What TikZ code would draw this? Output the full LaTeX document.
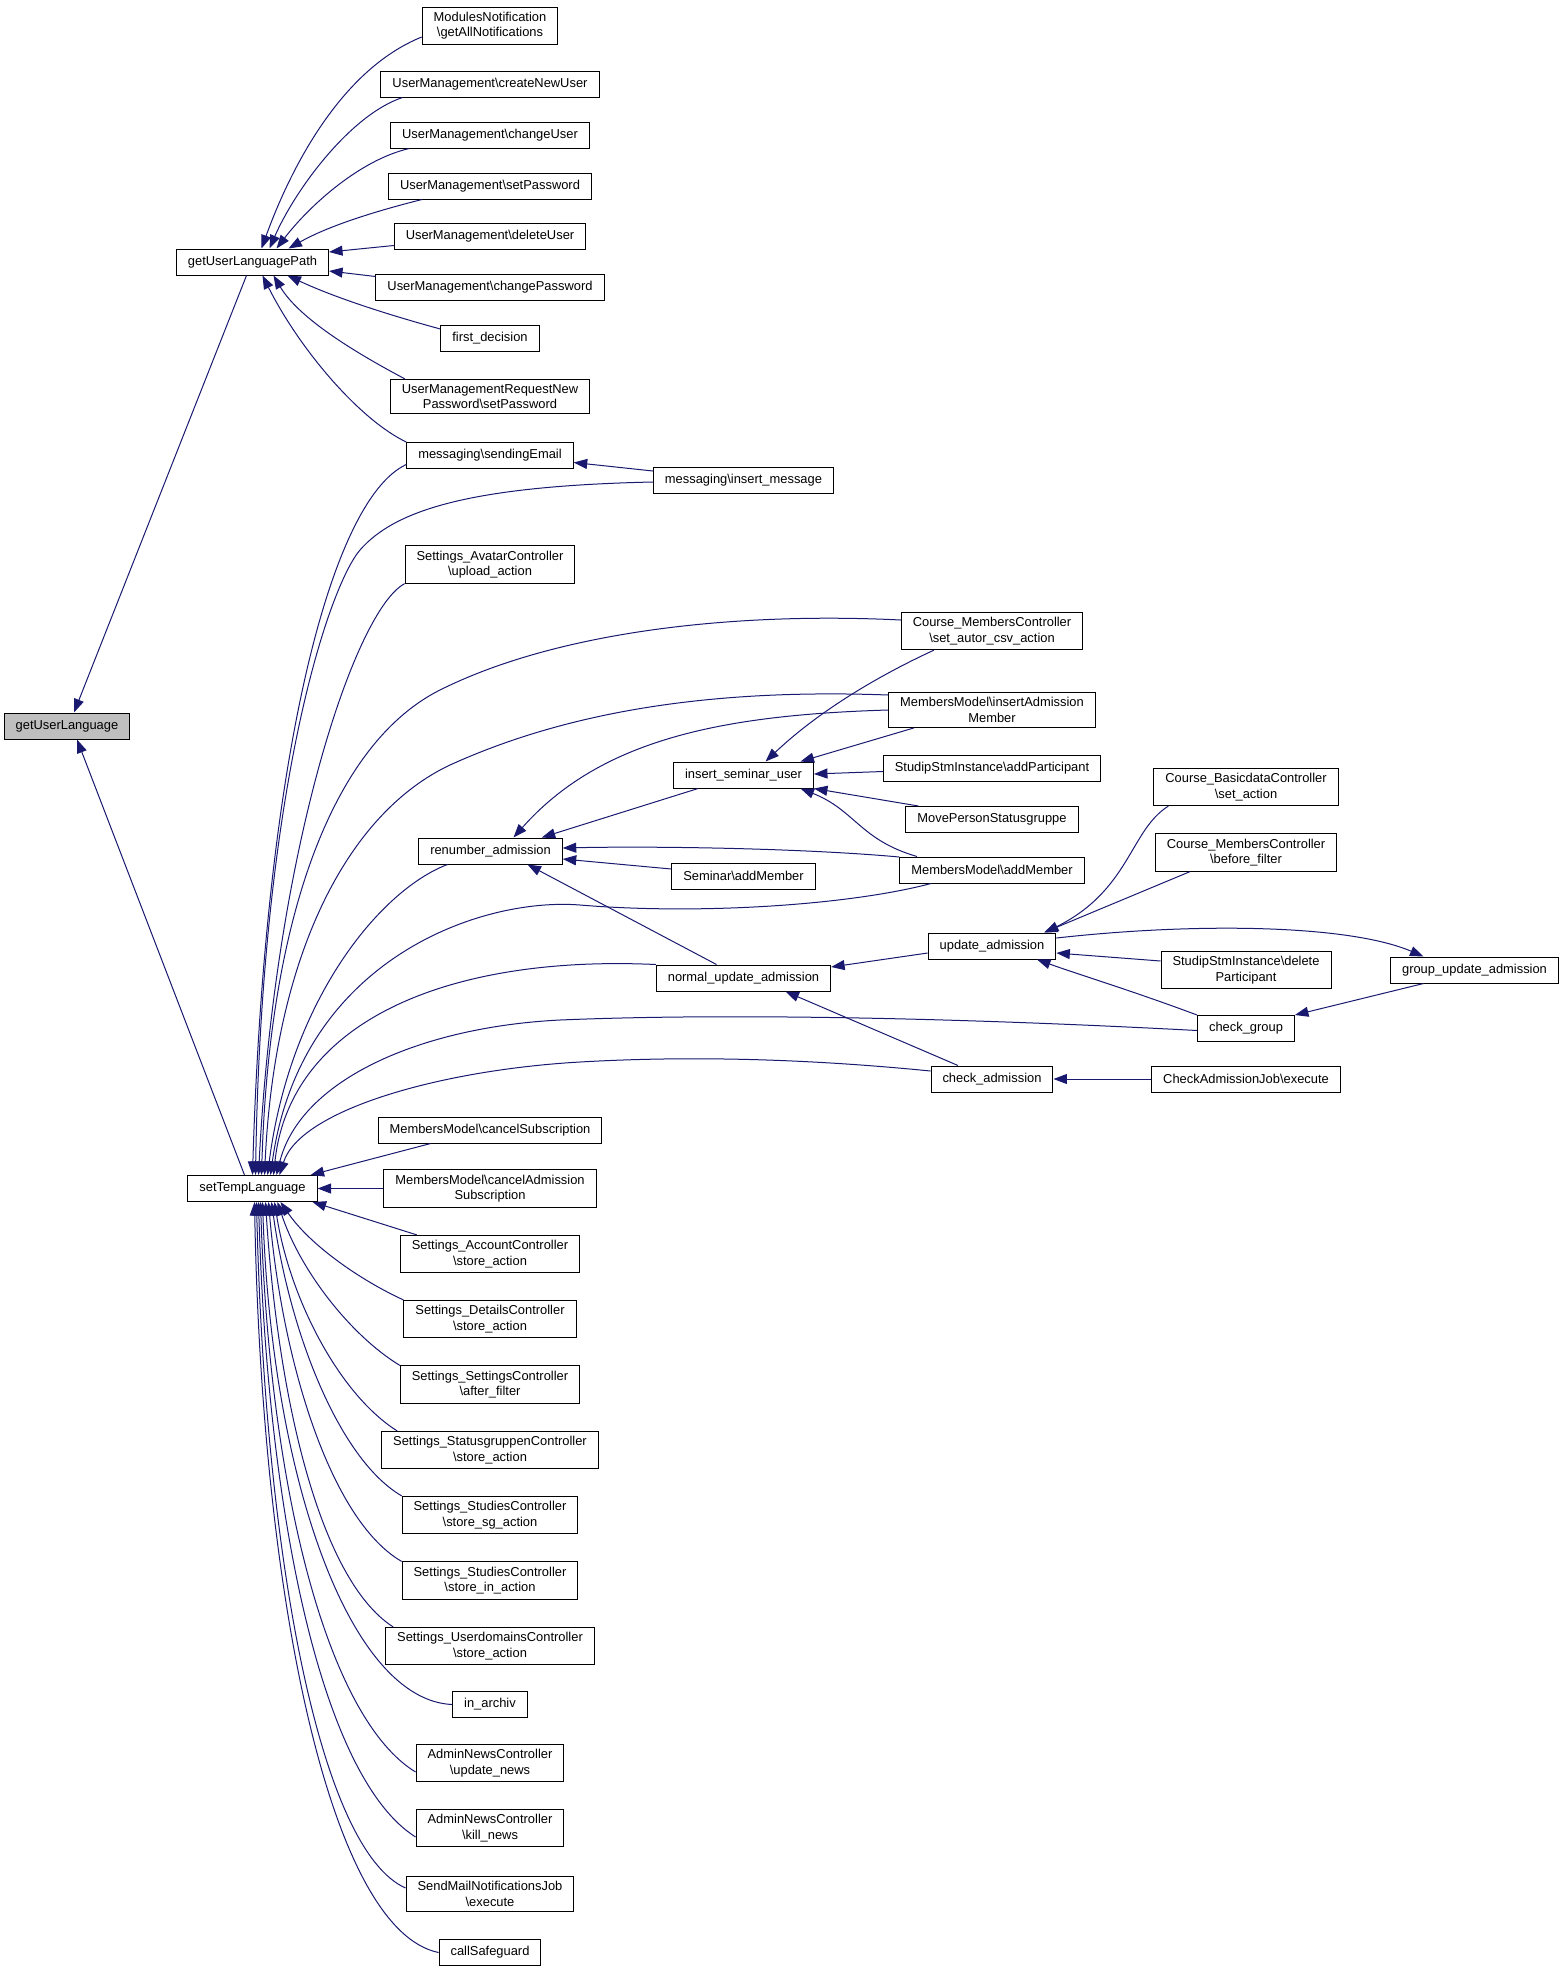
\documentclass[tikz,border=0pt]{standalone}
\usepackage{fontspec}
\setmainfont{Liberation Sans}
\usetikzlibrary{arrows.meta}
\definecolor{edgeblue}{HTML}{191970}
\definecolor{hlgray}{HTML}{BFBFBF}
\newcommand{\bsl}{\textbackslash}

\begin{document}
\begin{tikzpicture}[x=1pt,y=-1pt,
    fn/.style={draw=black, line width=1pt, fill=white, inner xsep=11.5pt, inner ysep=5pt,
               minimum height=26pt, align=center, font=\fontsize{12.9}{15.3}\selectfont},
    call/.style={draw=edgeblue, line width=1pt, -{Triangle[length=13.5pt,width=10pt]}}]
    \useasboundingbox (0,0) rectangle (1563,1971);

    % the two functions on the left
    \node [fn, fill=hlgray] (gul)  at (67,726)     {getUserLanguage};
    \node [fn] (gulp) at (252.5,262)   {getUserLanguagePath};
    \node [fn] (stl)  at (252.5,1188.5) {setTempLanguage};

    % callers of getUserLanguagePath
    \node [fn] (modn)   at (490,26)    {ModulesNotification\\\bsl getAllNotifications};
    \node [fn] (cnu)    at (490,84)    {UserManagement\bsl createNewUser};
    \node [fn] (chu)    at (490,135)   {UserManagement\bsl changeUser};
    \node [fn] (setpw)  at (490,186)   {UserManagement\bsl setPassword};
    \node [fn] (delu)   at (490,236.5) {UserManagement\bsl deleteUser};
    \node [fn] (chpw)   at (490,287.5) {UserManagement\bsl changePassword};
    \node [fn] (firstd) at (490,338)   {first\_decision};
    \node [fn] (umrn)   at (490,396.5) {UserManagementRequestNew\\Password\bsl setPassword};
    \node [fn] (sendm)  at (490,455.5) {messaging\bsl sendingEmail};
    \node [fn] (insm)   at (743.5,480) {messaging\bsl insert\_message};
    \node [fn] (avatar) at (490,564.5) {Settings\_AvatarController\\\bsl upload\_action};

    % admission part
    \node [fn] (cmset)   at (992,631)    {Course\_MembersController\\\bsl set\_autor\_csv\_action};
    \node [fn] (mmins)   at (992,710)    {MembersModel\bsl insertAdmission\\Member};
    \node [fn] (insu)    at (743.5,775)  {insert\_seminar\_user};
    \node [fn] (addp)    at (992,768.5)  {StudipStmInstance\bsl addParticipant};
    \node [fn] (moveps)  at (992,819.5)  {MovePersonStatusgruppe};
    \node [fn] (mmadd)   at (992,870)    {MembersModel\bsl addMember};
    \node [fn] (renum)   at (490.5,851)  {renumber\_admission};
    \node [fn] (semadd)  at (743.5,876)  {Seminar\bsl addMember};
    \node [fn] (updadm)  at (992,946)    {update\_admission};
    \node [fn] (normupd) at (743.5,978)  {normal\_update\_admission};
    \node [fn] (chkadm)  at (992,1079)   {check\_admission};
    \node [fn] (cbset)    at (1246,787)   {Course\_BasicdataController\\\bsl set\_action};
    \node [fn] (cmbefore) at (1246,852.5) {Course\_MembersController\\\bsl before\_filter};
    \node [fn] (delpart)  at (1246,970)   {StudipStmInstance\bsl delete\\Participant};
    \node [fn] (grpupd)   at (1474.5,970) {group\_update\_admission};
    \node [fn] (chkgrp)   at (1246,1028.5) {check\_group};
    \node [fn] (chkjob)   at (1246,1079)  {CheckAdmissionJob\bsl execute};

    % callers of setTempLanguage below
    \node [fn] (cancsub) at (490,1130)   {MembersModel\bsl cancelSubscription};
    \node [fn] (cancadm) at (490,1188.5) {MembersModel\bsl cancelAdmission\\Subscription};
    \node [fn] (sacct)   at (490,1254)   {Settings\_AccountController\\\bsl store\_action};
    \node [fn] (sdet)    at (490,1319)   {Settings\_DetailsController\\\bsl store\_action};
    \node [fn] (sset)    at (490,1384.5) {Settings\_SettingsController\\\bsl after\_filter};
    \node [fn] (sstat)   at (490,1450)   {Settings\_StatusgruppenController\\\bsl store\_action};
    \node [fn] (ssg)     at (490,1515)   {Settings\_StudiesController\\\bsl store\_sg\_action};
    \node [fn] (sin)     at (490,1580.5) {Settings\_StudiesController\\\bsl store\_in\_action};
    \node [fn] (sud)     at (490,1646)   {Settings\_UserdomainsController\\\bsl store\_action};
    \node [fn] (inarch)  at (490,1704.5) {in\_archiv};
    \node [fn] (anupd)   at (490,1763)   {AdminNewsController\\\bsl update\_news};
    \node [fn] (ankill)  at (490,1828)   {AdminNewsController\\\bsl kill\_news};
    \node [fn] (sendjob) at (490,1894)   {SendMailNotificationsJob\\\bsl execute};
    \node [fn] (safeg)   at (490,1952.5) {callSafeguard};

    % getUserLanguage
    \draw [call] ([xshift=-6pt]gulp.south) -- ([xshift=7pt]gul.north);
    \draw [call] ([xshift=-8pt]stl.north) -- ([xshift=10pt]gul.south);

    % getUserLanguagePath
    \draw [call] ([yshift=-11pt]modn.west) .. controls (340,70) and (290,170) .. ([xshift=9pt]gulp.north);
    \draw [call] ([xshift=22pt]cnu.south west) .. controls (350,115) and (295,190) .. ([xshift=17pt]gulp.north);
    \draw [call] ([xshift=19pt]chu.south west) .. controls (360,160) and (310,205) .. ([xshift=24pt]gulp.north);
    \draw [call] ([xshift=34pt]setpw.south west) .. controls (380,210) and (330,225) .. ([xshift=36pt]gulp.north);
    \draw [call] ([yshift=-9pt]delu.west) -- ([yshift=10pt]gulp.east);
    \draw [call] ([yshift=11pt]chpw.west) -- ([yshift=-9pt]gulp.east);
    \draw [call] ([yshift=9pt]firstd.west) .. controls (400,318) and (340,300) .. ([xshift=35pt]gulp.south);
    \draw [call] ([xshift=15pt]umrn.north west) .. controls (360,355) and (300,320) .. ([xshift=21pt]gulp.south);
    \draw [call] (sendm.north west) .. controls (360,420) and (300,350) .. ([xshift=10pt]gulp.south);
    \draw [call] ([yshift=9pt]insm.west) -- ([yshift=-7pt]sendm.east);

    % setTempLanguage, from above
    \draw [call] ([yshift=-9pt]sendm.west) .. controls (330,500) and (265,760) .. (stl.north);
    \draw [call] ([yshift=-2pt]insm.west) .. controls (470,486) and (395,510) .. (360,550)
        .. controls (330,585) and (262,780) .. ([xshift=3pt]stl.north);
    \draw [call] (avatar.south west) .. controls (355,610) and (275,850) .. ([xshift=6pt]stl.north);
    \draw [call] ([yshift=11pt]cmset.west) .. controls (740,612) and (560,630) .. (440,690)
        .. controls (340,740) and (270,900) .. ([xshift=9pt]stl.north);
    \draw [call] ([yshift=15pt]mmins.west) .. controls (700,688) and (560,715) .. (450,765)
        .. controls (350,812) and (275,950) .. ([xshift=12pt]stl.north);
    \draw [call] ([xshift=-43pt]renum.south) .. controls (380,890) and (290,1000) .. ([xshift=15pt]stl.north);
    \draw [call] ([xshift=-61pt]mmadd.south) .. controls (850,905) and (700,915) .. (580,905)
        .. controls (480,897) and (300,960) .. ([xshift=18pt]stl.north);
    \draw [call] (normupd.north west) .. controls (450,955) and (290,1020) .. ([xshift=21pt]stl.north);
    \draw [call] ([yshift=-2pt]chkgrp.west) .. controls (1000,1020) and (750,1012) .. (560,1020)
        .. controls (420,1027) and (300,1080) .. ([xshift=24pt]stl.north);
    \draw [call] ([yshift=8pt]chkadm.west) .. controls (820,1060) and (700,1055) .. (580,1062)
        .. controls (440,1070) and (300,1110) .. ([xshift=27pt]stl.north);
    \draw [call] ([xshift=53pt]cancsub.south west) -- ([xshift=-7pt]stl.north east);
    \draw [call] (cancadm.west) -- (stl.east);

    % setTempLanguage, from below
    \draw [call] ([xshift=17pt]sacct.north west) -- ([xshift=-5pt]stl.south east);
    \draw [call] (sdet.north west) .. controls (360,1280) and (310,1245) .. ([xshift=28pt]stl.south);
    \draw [call] (sset.north west) .. controls (350,1335) and (300,1270) .. ([xshift=25pt]stl.south);
    \draw [call] ([xshift=16pt]sstat.north west) .. controls (340,1395) and (290,1300) .. ([xshift=22pt]stl.south);
    \draw [call] (ssg.north west) .. controls (340,1460) and (290,1335) .. ([xshift=19pt]stl.south);
    \draw [call] (sin.north west) .. controls (330,1520) and (282,1360) .. ([xshift=16pt]stl.south);
    \draw [call] ([xshift=8pt]sud.north west) .. controls (320,1580) and (278,1400) .. ([xshift=13pt]stl.south);
    \draw [call] (inarch.west) .. controls (350,1700) and (272,1480) .. ([xshift=10pt]stl.south);
    \draw [call] ([yshift=-9pt]anupd.west) .. controls (330,1720) and (270,1500) .. ([xshift=8pt]stl.south);
    \draw [call] ([yshift=-9pt]ankill.west) .. controls (325,1780) and (268,1530) .. ([xshift=6pt]stl.south);
    \draw [call] ([yshift=6pt]sendjob.west) .. controls (320,1850) and (265,1560) .. ([xshift=4pt]stl.south);
    \draw [call] (safeg.west) .. controls (330,1930) and (262,1600) .. ([xshift=2pt]stl.south);

    % renumber_admission
    \draw [call] ([xshift=25pt]insu.south west) -- ([xshift=-21pt]renum.north east);
    \draw [call] (mmins.west) .. controls (720,715) and (600,740) .. ([xshift=23pt]renum.north);
    \draw [call] ([yshift=13pt]mmadd.west) .. controls (800,848) and (650,846) .. ([yshift=3pt]renum.east);
    \draw [call] ([yshift=7pt]semadd.west) -- ([yshift=-8pt]renum.east);
    \draw [call] ([xshift=-27pt]normupd.north) -- ([xshift=37pt]renum.south);

    % insert_seminar_user
    \draw [call] ([xshift=-58pt]cmset.south) .. controls (880,675) and (820,710) .. ([xshift=22pt]insu.north);
    \draw [call] ([xshift=-78pt]mmins.south) -- ([xshift=57pt]insu.north);
    \draw [call] ([yshift=-3pt]addp.west) -- ([yshift=1pt]insu.east);
    \draw [call] ([xshift=13pt]moveps.north west) -- (insu.south east);
    \draw [call] ([xshift=-75pt]mmadd.north) .. controls (860,840) and (855,810) .. ([xshift=57pt]insu.south);

    % normal_update_admission and update_admission
    \draw [call] ([yshift=-7pt]updadm.west) -- ([yshift=11pt]normupd.east);
    \draw [call] ([xshift=-34pt]chkadm.north) -- ([xshift=42pt]normupd.south);
    \draw [call] ([xshift=15pt]cbset.south west) .. controls (1130,830) and (1130,890) .. ([xshift=53pt]updadm.north);
    \draw [call] ([xshift=-56pt]cmbefore.south) -- ([xshift=52pt]updadm.north);
    \draw [call] ([yshift=9pt]delpart.west) -- ([yshift=-7pt]updadm.east);
    \draw [call] (chkgrp.north west) .. controls (1130,990) and (1080,975) .. ([xshift=45pt]updadm.south);
    \draw [call] ([yshift=8pt]updadm.east) .. controls (1200,922) and (1350,925) .. ([xshift=-51pt]grpupd.north);
    \draw [call] ([xshift=-51pt]grpupd.south) -- (chkgrp.north east);
    \draw [call] (chkjob.west) -- (chkadm.east);
\end{tikzpicture}
\end{document}
